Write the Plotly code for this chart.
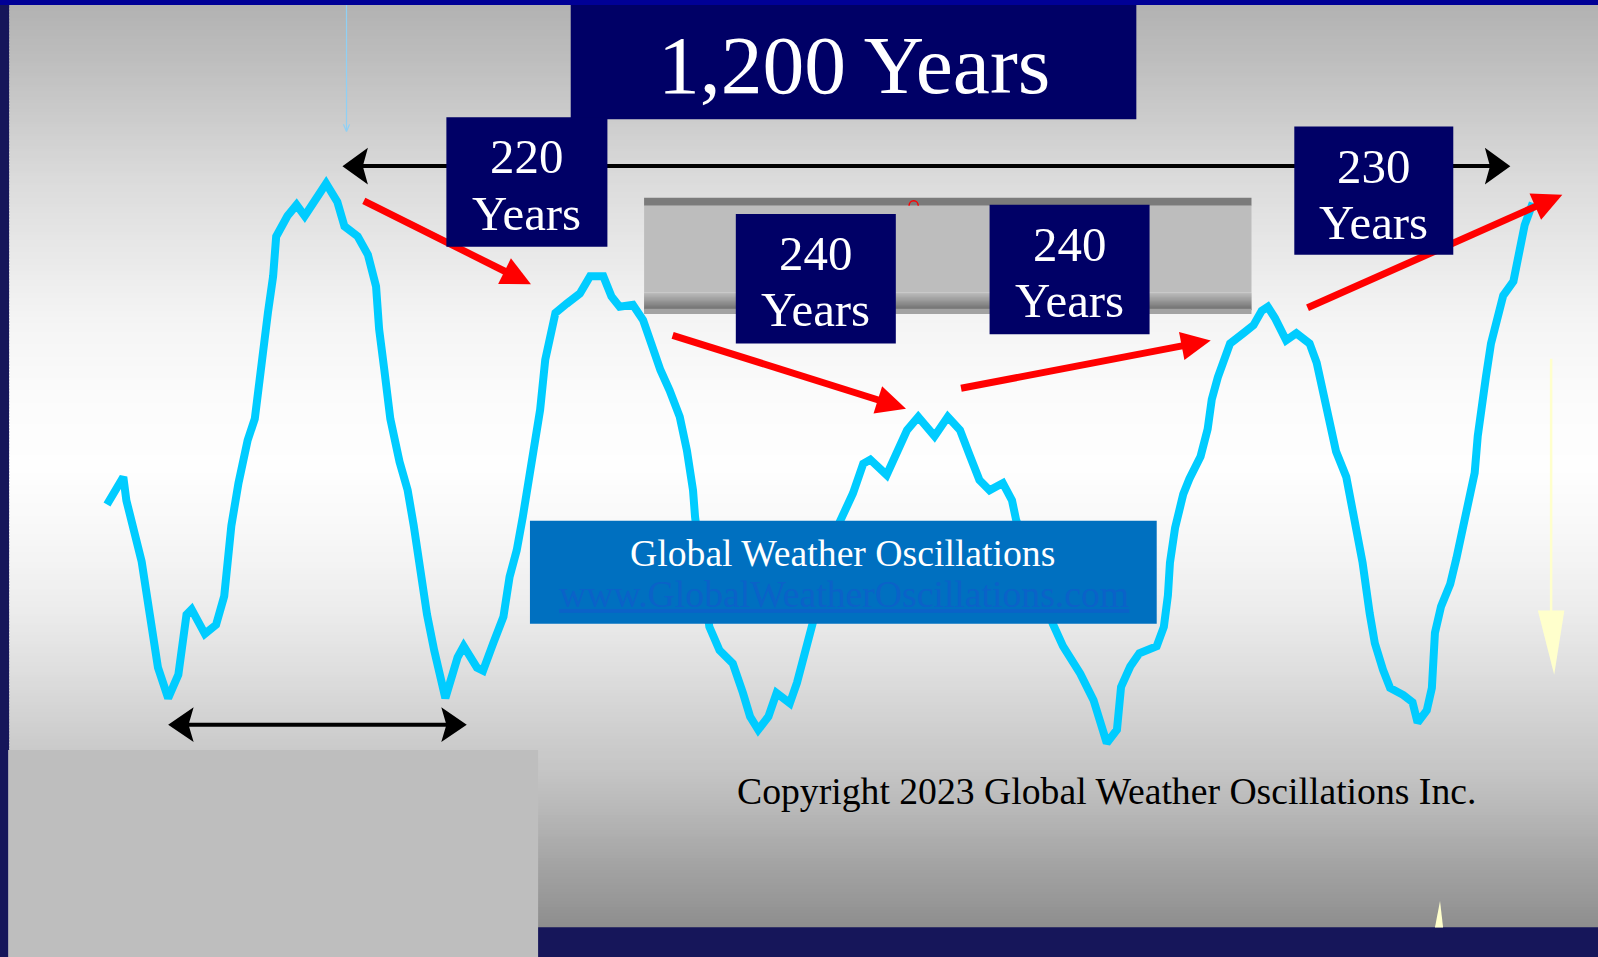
import numpy as np
import plotly.graph_objects as go

# ---------------- data ----------------
YEARS = [0, 16, 19, 34, 42, 50, 60, 70, 78, 83, 96, 107, 115, 122, 129, 138, 145, 151, 158, 163,
         166, 177, 186, 194, 202, 215, 226, 233, 246, 256, 264, 267, 272, 278, 287, 295, 301, 306,
         314, 321, 332, 344, 350, 363, 369, 379, 389, 395, 402, 408, 413, 420, 425, 430, 435, 440,
         451, 464, 474, 487, 495, 503, 516, 526, 534, 543, 552, 562, 569, 575, 577, 584, 591, 601,
         614, 624, 631, 639, 649, 657, 670, 677, 685, 693, 706, 719, 732, 742, 749, 765, 775, 785,
         796, 812, 825, 837, 847, 856, 866, 879, 888, 892, 910, 928, 938, 955, 968, 981, 991, 995,
         1004, 1013, 1030, 1037, 1041, 1043, 1048, 1056, 1062, 1073, 1080, 1084, 1090, 1097, 1102,
         1115, 1125, 1133, 1139, 1146, 1157, 1167, 1180, 1187, 1193, 1198, 1206, 1216, 1223, 1228,
         1232, 1239, 1244, 1252, 1259, 1272, 1281, 1286, 1295, 1300, 1303, 1309, 1318, 1324, 1331,
         1337, 1342, 1345, 1349, 1353, 1358, 1365, 1370, 1380, 1386, 1391, 1399]
ANOMALY = [-0.45, -0.18, -0.41, -1.01, -1.53, -2.05, -2.35, -2.12, -1.53, -1.48, -1.72, -1.63,
           -1.35, -0.66, -0.24, 0.18, 0.39, 0.95, 1.44, 1.79, 2.18, 2.38, 2.49, 2.38, 2.49, 2.70,
           2.52, 2.28, 2.18, 2.00, 1.69, 1.27, 0.88, 0.39, -0.03, -0.31, -0.66, -1.01, -1.53, -1.88,
           -2.35, -1.95, -1.84, -2.05, -2.08, -1.81, -1.55, -1.16, -0.90, -0.57, -0.24, 0.15, 0.48,
           0.97, 1.23, 1.43, 1.52, 1.62, 1.79, 1.79, 1.59, 1.49, 1.51, 1.36, 1.13, 0.87, 0.67, 0.41,
           0.08, -0.31, -0.57, -1.10, -1.65, -1.88, -2.01, -2.30, -2.53, -2.66, -2.53, -2.30, -2.40,
           -2.20, -1.88, -1.62, -1.10, -0.62, -0.34, -0.05, -0.01, -0.16, 0.05, 0.28, 0.41, 0.22,
           0.41, 0.28, 0.02, -0.21, -0.31, -0.24, -0.41, -0.60, -1.10, -1.62, -1.84, -2.11, -2.37,
           -2.79, -2.66, -2.24, -2.04, -1.91, -1.84, -1.65, -1.34, -1.02, -0.68, -0.35, -0.20, 0.02,
           0.29, 0.58, 0.80, 1.02, 1.13, 1.23, 1.31, 1.45, 1.49, 1.38, 1.16, 1.23, 1.13, 0.94, 0.65,
           0.36, 0.07, -0.18, -0.51, -0.80, -1.02, -1.52, -1.81, -2.07, -2.25, -2.32, -2.39, -2.59,
           -2.47, -2.25, -1.71, -1.45, -1.23, -0.98, -0.65, -0.43, -0.14, 0.22, 0.58, 0.80, 1.13,
           1.45, 1.60, 1.74, 2.03, 2.29, 2.51]

TITLE = "1,200 Years"
SPAN_NUMBERS = ["220", "240", "240", "230"]
UNIT = "Years"
BRAND = "Global Weather Oscillations"
URL = "www.GlobalWeatherOscillations.com"
COPYRIGHT = "Copyright 2023 Global Weather Oscillations Inc."

# ---------------- layout helpers (design frame) ----------------
FW, FH = 1568.0, 939.0
SCALE = 1598.0 / FW


def px(x):
    return x / FW


def py(y):
    return 1 - y / FH


shapes = []


def rect(x0, y0, x1, y1, color, layer="above"):
    shapes.append(dict(type="rect", xref="paper", yref="paper",
                       x0=px(x0), x1=px(x1), y0=py(y1), y1=py(y0),
                       fillcolor=color, line=dict(width=0), layer=layer))


def poly(pts, color, layer="above"):
    path = "M " + " L ".join(f"{px(a):.5f},{py(b):.5f}" for a, b in pts) + " Z"
    shapes.append(dict(type="path", xref="paper", yref="paper", path=path,
                       fillcolor=color, line=dict(width=0), layer=layer))


def seg(x0, y0, x1, y1, color, width, layer="above"):
    shapes.append(dict(type="line", xref="paper", yref="paper",
                       x0=px(x0), y0=py(y0), x1=px(x1), y1=py(y1),
                       line=dict(color=color, width=width), layer=layer))


def red_arrow(x0, y0, x1, y1, color="#ff0000", lw=7, L=29, Wd=28):
    d = np.array([x1 - x0, y1 - y0], float)
    d /= np.hypot(*d)
    n = np.array([-d[1], d[0]])
    tip = np.array([x1, y1], float)
    base = tip - d * L
    seg(x0, y0, *(base + d * 3), color, lw)
    poly([tuple(tip), tuple(base + n * Wd / 2), tuple(base - n * Wd / 2)], color)


def stealth_head(tx, ty, direction, L=25, Hh=36, color="black"):
    # direction: +1 head points right, -1 head points left
    bx = tx - direction * L
    nx = tx - direction * L * 0.8
    poly([(tx, ty), (bx, ty - Hh / 2), (nx, ty), (bx, ty + Hh / 2)], color)


def gray_hex(v):
    v = int(round(max(0, min(255, v))))
    return f"rgb({v},{v},{v})"


# ---------------- background ----------------
prof_y = [5, 60, 120, 180, 250, 320, 400, 460, 520, 600, 660, 720, 760, 800, 850, 910]
prof_g = [178, 190, 205, 220, 233, 245, 252, 254, 248, 236, 222, 206, 196, 182, 163, 142]
step = 3
for y in np.arange(5, 910, step):
    g = np.interp(y + step / 2, prof_y, prof_g)
    rect(9, y, FW, min(y + step + 1, 910), gray_hex(g), layer="below")
rect(0, 0, FW, 5, "#000096", layer="below")          # top band
rect(528, 910, FW, FH, "#16165a", layer="below")     # bottom band
rect(8, 736, 528, FH, "#bebebe", layer="below")      # lower-left grey panel

# grey bar behind the middle labels
rect(632, 194, 1228, 202, "#7b7b7b", layer="below")
shapes.append(dict(type="circle", xref="paper", yref="paper",
                   x0=px(892), x1=px(901), y0=py(207), y1=py(197),
                   line=dict(color="#ff0000", width=1.5), layer="below"))
rect(632, 202, 1228, 287, "#bdbdbd", layer="below")
for y in np.arange(287, 304, 1):
    g = np.interp(y, [287, 303], [188, 112])
    rect(632, y, 1228, y + 1.5, gray_hex(g), layer="below")
rect(632, 303, 1228, 308, "#a2a2a2", layer="below")

# thin light-blue marker line
seg(340, 5, 340, 128, "#8fd0f5", 1.2, layer="below")
seg(337, 122, 340, 129, "#8fd0f5", 1.2, layer="below")
seg(343, 122, 340, 129, "#8fd0f5", 1.2, layer="below")

# faint yellow arrow on the right + small spike at the bottom
seg(1522, 352, 1522, 600, "#ffffcc", 2.5)
poly([(1509, 599), (1535, 599), (1525, 662)], "#ffffcc")
poly([(1408, 910), (1416, 910), (1413, 884)], "#ffffcc")

# ---------------- arrows ----------------
# 1,200-year span arrow
seg(352, 163, 1468, 163, "black", 4)
stealth_head(336, 163, -1)
stealth_head(1482, 163, +1)
# lower span arrow
seg(180, 711, 444, 711, "black", 4)
stealth_head(165, 711, -1, Hh=34)
stealth_head(458, 711, +1, Hh=34)

# red cycle arrows
red_arrow(357, 197, 521, 279)
red_arrow(660, 329, 889, 401)
red_arrow(943, 381, 1188, 334)
red_arrow(1283, 302, 1533, 191)

# ---------------- boxes ----------------
NAVY = "#000066"
rect(560, 5, 1115, 117, NAVY)
label_boxes = [(438, 115, 596, 242), (722, 210, 879, 337), (971, 201, 1128, 328), (1270, 124, 1426, 250)]
for b in label_boxes:
    rect(*b, NAVY)
rect(520, 511, 1135, 612, "#0070c0")

# ---------------- text ----------------
SERIF = "Liberation Serif, Times New Roman, serif"
annotations = []


def text(x, y, s, size, color="white"):
    annotations.append(dict(xref="paper", yref="paper", x=px(x), y=py(y), text=s,
                            showarrow=False, xanchor="center", yanchor="middle",
                            font=dict(family=SERIF, size=size * SCALE, color=color)))


text(838, 64, TITLE, 82)
for (x0, y0, x1, y1), num in zip(label_boxes, SPAN_NUMBERS):
    cx = (x0 + x1) / 2
    text(cx, y0 + 39, num, 48)
    text(cx, y0 + 94, UNIT, 48)
text(827, 543, BRAND, 37)
text(828, 583, f"<u>{URL}</u>", 37, color="#0b62c8")
text(1086, 776, COPYRIGHT, 37, color="black")

# ---------------- figure ----------------
fig = go.Figure()
fig.add_trace(go.Scatter(x=YEARS, y=ANOMALY, mode="lines",
                         line=dict(color="#00ccff", width=8), hoverinfo="skip",
                         showlegend=False))

fig.update_layout(
    width=1598, height=957, autosize=False,
    margin=dict(l=0, r=0, t=0, b=0, pad=0),
    paper_bgcolor="#16165a", plot_bgcolor="rgba(0,0,0,0)",
    xaxis=dict(range=[-105, FW - 105], domain=[0, 1], visible=False, fixedrange=True),
    yaxis=dict(range=[(450 - FH) / 100, 4.5], domain=[0, 1], visible=False, fixedrange=True),
    shapes=shapes, annotations=annotations, showlegend=False,
)

fig.write_html("out.html", config={"displayModeBar": False},
               post_script="document.body.style.margin='0';document.body.style.overflow='hidden';")
